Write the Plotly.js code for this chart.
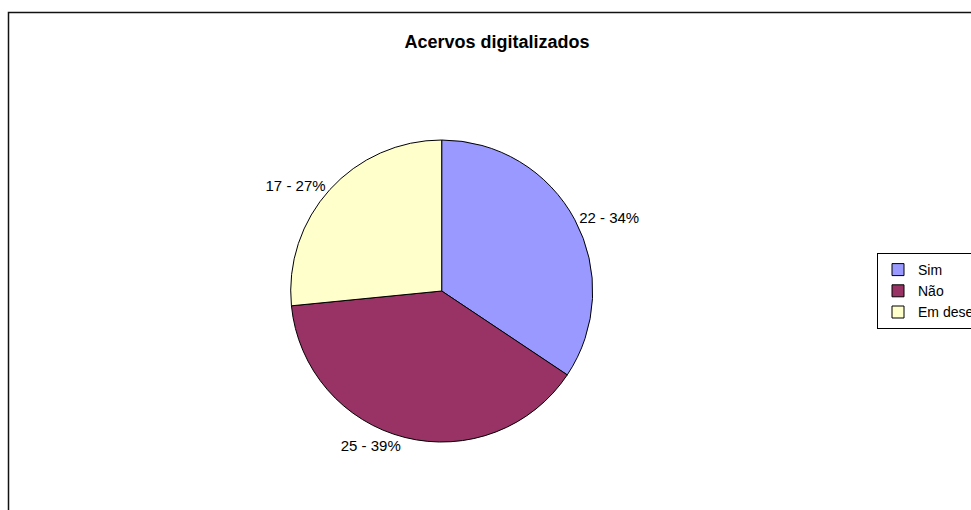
<!DOCTYPE html>
<html>
<head>
<meta charset="utf-8">
<script src="https://cdn.plot.ly/plotly-3.0.1.min.js"></script>
<style>
  html, body { margin: 0; padding: 0; overflow: hidden; background: #fff; }
  #chart { width: 1040px; height: 520px; }
</style>
</head>
<body>
<div id="chart"></div>
<script>
const categories = ['Sim', 'Não', 'Em desenvolvimento'];
const values = [22, 25, 17];
const colors = ['#9999FF', '#993366', '#FFFFCC'];
const chartTitle = 'Acervos digitalizados';

const W = 1040, H = 520;
const cx = 441.7, cy = 291, r = 151;

const trace = {
  type: 'pie',
  labels: categories,
  values: values,
  sort: false,
  direction: 'clockwise',
  rotation: 0,
  marker: { colors: colors, line: { color: '#000', width: 1 } },
  texttemplate: '%{value} - %{percent:.0%}',
  textposition: 'outside',
  textfont: { family: 'Liberation Sans, Arial, sans-serif', size: 15, color: '#000' },
  hoverinfo: 'label+value+percent',
  domain: {
    x: [(cx - r) / W, (cx + r) / W],
    y: [1 - (cy + r) / H, 1 - (cy - r) / H]
  }
};

const layout = {
  width: W,
  height: H,
  margin: { l: 0, r: 0, t: 0, b: 0, autoexpand: false },
  paper_bgcolor: '#fff',
  font: { family: 'Liberation Sans, Arial, sans-serif', color: '#000' },
  title: {
    text: '<b>' + chartTitle + '</b>',
    font: { family: 'Liberation Sans, Arial, sans-serif', size: 18, color: '#000' },
    x: 497 / W, xref: 'paper', xanchor: 'center',
    y: 1 - 42 / H, yref: 'container', yanchor: 'middle'
  },
  showlegend: true,
  legend: {
    x: 877 / W, xanchor: 'left',
    y: 1 - 253 / H, yanchor: 'top',
    bordercolor: '#000', borderwidth: 1,
    bgcolor: '#fff',
    itemwidth: 30,
    tracegroupgap: 0,
    font: { family: 'Liberation Sans, Arial, sans-serif', size: 14, color: '#000' },
    traceorder: 'normal'
  },
  shapes: [{
    type: 'rect', xref: 'paper', yref: 'paper',
    x0: 8.5 / W, x1: 986 / W, y0: -0.2, y1: 1 - 12.5 / H,
    line: { color: '#111', width: 1.5 }, fillcolor: 'rgba(0,0,0,0)', layer: 'below'
  }]
};

Plotly.newPlot('chart', [trace], layout, { displayModeBar: false, staticPlot: true });
</script>
</body>
</html>
